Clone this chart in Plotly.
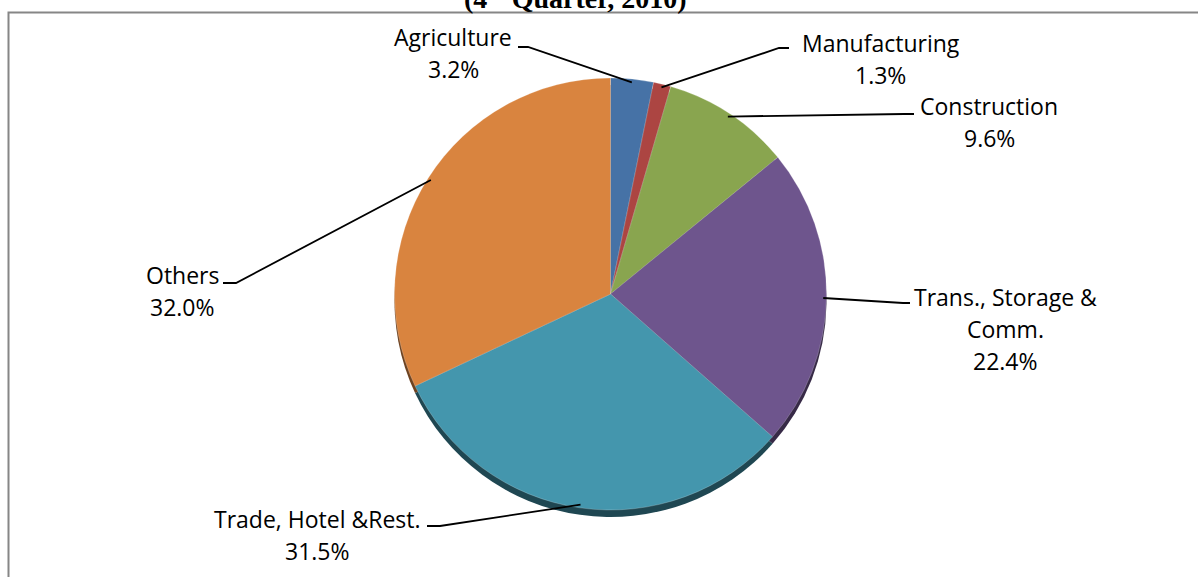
import math
import plotly.graph_objects as go

W, H = 1198, 577

sectors = ["Agriculture", "Manufacturing", "Construction",
           "Trans., Storage & Comm.", "Trade, Hotel &Rest.", "Others"]
shares = [3.2, 1.3, 9.6, 22.4, 31.5, 32.0]
label_lines = [["Agriculture"], ["Manufacturing"], ["Construction"],
               ["Trans., Storage &", "Comm."], ["Trade, Hotel &Rest."], ["Others"]]
colors = ["#4672a6", "#ac4542", "#89a54f", "#6e558d", "#4496ad", "#d9843f"]
shadow_colors = ["#223a56", "#562221", "#455427", "#372a47", "#1f4752", "#6d4220"]

# pie geometry in pixels
cx, cy, r = 610.5, 294, 216
depth = 7

# label layout: text centre x, first line centre y, stub start, elbow
label_pos = [(453, 37), (881, 43), (989, 106), (1005, 297), (317, 519), (182, 275)]
stubs = [((518, 47), (528, 47)), ((789, 48), (779, 48)), ((914, 114), (904, 114)),
         ((910, 303), (903, 303)), ((427, 526), (440, 526)), ((223, 283), (236, 283))]
line_gap = 31.8


def px(x):
    return x / W


def py(y):
    return 1 - y / H


fig = go.Figure()
fig.add_trace(go.Pie(
    labels=sectors, values=shares, sort=False, direction="clockwise", rotation=0,
    marker=dict(colors=shadow_colors, line=dict(width=0)),
    textinfo="none", hoverinfo="skip", showlegend=False,
    domain=dict(x=[px(cx - r), px(cx + r)], y=[py(cy + r + depth), py(cy - r + depth)]),
))
fig.add_trace(go.Pie(
    labels=sectors, values=shares, sort=False, direction="clockwise", rotation=0,
    marker=dict(colors=colors, line=dict(width=0.6, color="rgba(255,255,255,0.35)")),
    textinfo="none", hovertemplate="%{label}: %{value:.1f}%<extra></extra>", showlegend=False,
    domain=dict(x=[px(cx - r), px(cx + r)], y=[py(cy + r), py(cy - r)]),
))

annotations = []
shapes = []
total = sum(shares)
cum = 0
for i, v in enumerate(shares):
    mid = (cum + v / 2) / total * 2 * math.pi
    cum += v
    ex = cx + 0.985 * r * math.sin(mid)
    ey = cy - 0.985 * r * math.cos(mid)
    (sx, sy), (kx, ky) = stubs[i]
    shapes.append(dict(
        type="path", xref="paper", yref="paper",
        path=f"M {px(sx)} {py(sy)} L {px(kx)} {py(ky)} L {px(ex)} {py(ey)}",
        line=dict(color="black", width=1.8),
    ))
    lines = label_lines[i] + [f"{v:.1f}%"]
    tx, ty = label_pos[i]
    for j, t in enumerate(lines):
        annotations.append(dict(
            text=t, x=px(tx), y=py(ty + j * line_gap), xref="paper", yref="paper",
            showarrow=False, xanchor="center", yanchor="middle",
            font=dict(family="Open Sans", size=23, color="black"),
        ))

# title sits above the frame, partly cut by the top edge
annotations.append(dict(
    text="<b>(4<sup>th</sup> Quarter, 2010)</b>", x=px(575), y=py(16), xref="paper", yref="paper",
    showarrow=False, xanchor="center", yanchor="bottom",
    font=dict(family="Liberation Serif", size=28, color="black"),
))

# frame around chart area
shapes.append(dict(
    type="rect", xref="paper", yref="paper",
    x0=px(8.5), y0=py(590), x1=px(1210), y1=py(12.5),
    line=dict(color="#868686", width=2), fillcolor="rgba(0,0,0,0)", layer="below",
))

fig.update_layout(
    width=W, height=H,
    margin=dict(l=0, r=0, t=0, b=0),
    paper_bgcolor="white", plot_bgcolor="white",
    annotations=annotations, shapes=shapes,
    showlegend=False,
)

fig.write_html("out.html", config={"displayModeBar": False},
               post_script="document.body.style.margin='0px';")
